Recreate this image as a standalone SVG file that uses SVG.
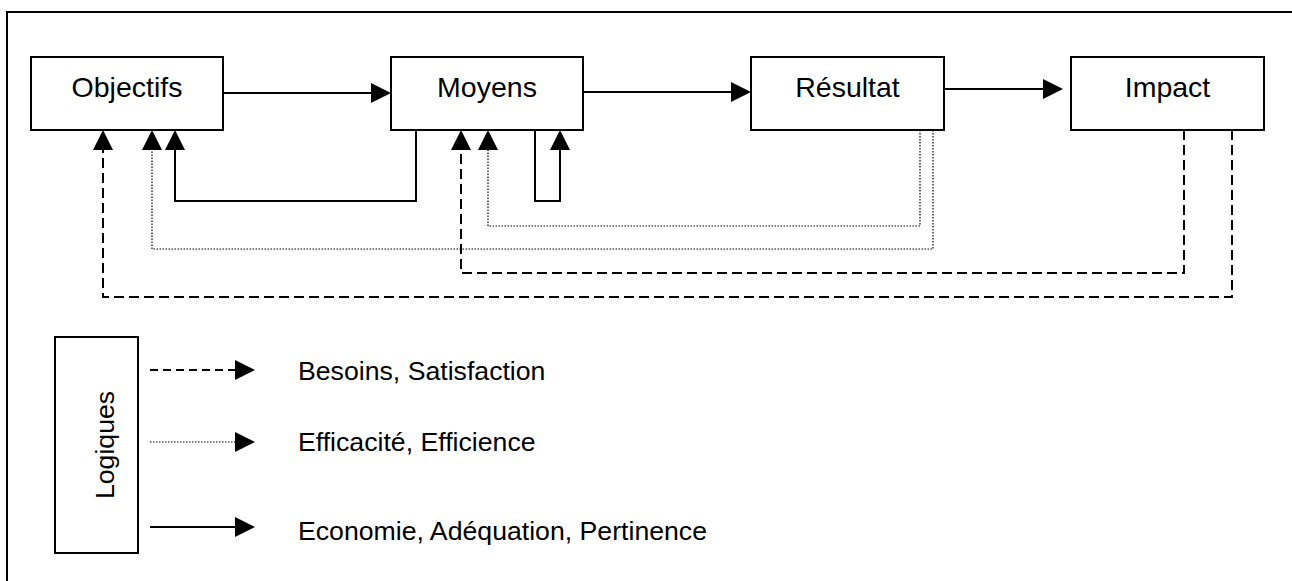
<svg xmlns="http://www.w3.org/2000/svg" width="1292" height="581" viewBox="0 0 1292 581">
  <defs>
    <style>
      .box { fill: #fff; stroke: #000; stroke-width: 2; }
      .lbl { font-family: "Liberation Sans", Arial, sans-serif; font-size: 26.67px; fill: #000; }
      .nlbl { font-family: "Liberation Sans", Arial, sans-serif; font-size: 28.5px; fill: #000; }
      .solid { fill: none; stroke: #000; stroke-width: 2; }
      .dash { fill: none; stroke: #000; stroke-width: 2; stroke-dasharray: 10 5; }
      .dot { fill: none; stroke: #000; stroke-width: 1.2; stroke-dasharray: 1.5 1.5; }
    </style>
    <marker id="ah" markerUnits="userSpaceOnUse" markerWidth="20" markerHeight="20" refX="0" refY="10" orient="auto" viewBox="0 0 20 20">
      <path d="M0,0 L20,10 L0,20 Z" fill="#000" stroke="none"/>
    </marker>
  </defs>
  <rect x="0" y="0" width="1292" height="581" fill="#fff"/>
  <rect x="7" y="12" width="1300" height="600" fill="none" stroke="#000" stroke-width="2"/>

  <g id="connectors">
    <path class="solid" d="M223,93 H371" marker-end="url(#ah)"/>
    <path class="solid" d="M583,92 H731" marker-end="url(#ah)"/>
    <path class="solid" d="M944,89 H1043" marker-end="url(#ah)"/>
    <path class="solid" d="M416,130 V201 H175 V150" marker-end="url(#ah)"/>
    <path class="solid" d="M535,130 V201 H560 V150" marker-end="url(#ah)"/>
    <path class="dot" d="M920,130 V226 H488 V150" marker-end="url(#ah)"/>
    <path class="dot" d="M933,130 V249 H152 V150" marker-end="url(#ah)"/>
    <path class="dash" d="M1184,130 V273 H461 V150" marker-end="url(#ah)"/>
    <path class="dash" d="M1232,130 V297 H103 V150" marker-end="url(#ah)"/>
  </g>

  <g id="node-objectifs">
    <rect class="box" x="31" y="57" width="192" height="73"/>
    <text class="nlbl" x="127" y="97" text-anchor="middle">Objectifs</text>
  </g>
  <g id="node-moyens">
    <rect class="box" x="391" y="57" width="192" height="73"/>
    <text class="nlbl" x="487" y="97" text-anchor="middle">Moyens</text>
  </g>
  <g id="node-resultat">
    <rect class="box" x="751" y="57" width="193" height="73"/>
    <text class="nlbl" x="847.5" y="97" text-anchor="middle">Résultat</text>
  </g>
  <g id="node-impact">
    <rect class="box" x="1071" y="57" width="193" height="73"/>
    <text class="nlbl" x="1167.5" y="97" text-anchor="middle">Impact</text>
  </g>

  <g id="legend">
    <rect class="box" x="55" y="337" width="83" height="216"/>
    <text class="lbl" transform="translate(114,445) rotate(-90)" text-anchor="middle">Logiques</text>
    <path class="dash" style="stroke-dasharray: 8 5" d="M150,370 H235" marker-end="url(#ah)"/>
    <path class="dot" d="M150,442 H235" marker-end="url(#ah)"/>
    <path class="solid" d="M150,527 H235" marker-end="url(#ah)"/>
    <text class="lbl" x="298" y="380">Besoins, Satisfaction</text>
    <text class="lbl" x="298" y="451">Efficacité, Efficience</text>
    <text class="lbl" x="298" y="540">Economie, Adéquation, Pertinence</text>
  </g>
</svg>
